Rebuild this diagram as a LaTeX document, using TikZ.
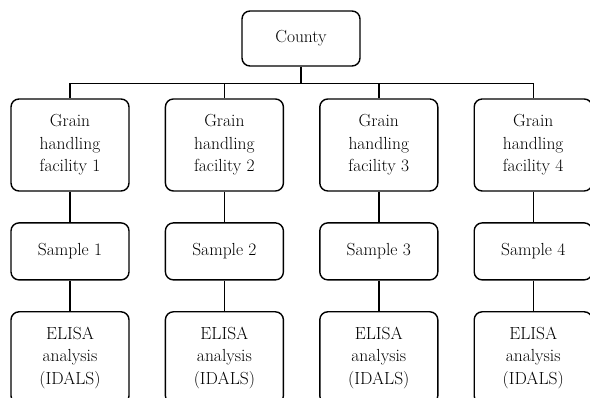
\documentclass[tikz,border=0pt]{standalone}
\usetikzlibrary{positioning}

\begin{document}
\begin{tikzpicture}[x=1pt,y=1pt,
            box/.style={
                rectangle, rounded corners=8pt, draw, line width=1.4pt,
                minimum width=118pt, align=center,
                font=\fontsize{17.5}{22.5}\selectfont},
            tallbox/.style={box, minimum height=92pt},
            shortbox/.style={box, minimum height=57pt},
            link/.style={line width=1.4pt}]

            \useasboundingbox (0,0) rectangle (590,398);

            % top level
            \node [shortbox, minimum height=55pt] (county) at (301,359.5) {County};
            \coordinate [below=17pt of county.south] (split);

            % one column per facility
            \node [tallbox] (f1) at (70,253) {Grain\\handling\\facility 1};
            \node [tallbox,right=35pt of f1] (f2) {Grain\\handling\\facility 2};
            \node [tallbox,right=35pt of f2] (f3) {Grain\\handling\\facility 3};
            \node [tallbox,right=35pt of f3] (f4) {Grain\\handling\\facility 4};

            \foreach \i in {1,...,4} {
                \node [shortbox,below=30.5pt of f\i] (s\i) {Sample \i};
                \node [tallbox,below=30.5pt of s\i] (e\i) {ELISA\\analysis\\(IDALS)};
            }

            % connectors
            \draw [link] (county.south) -- (split);
            \foreach \i in {1,...,4} {
                \draw [link] (split) -| (f\i.north);
                \draw [link] (f\i) -- (s\i);
                \draw [link] (s\i) -- (e\i);
            }

\end{tikzpicture}
\end{document}
